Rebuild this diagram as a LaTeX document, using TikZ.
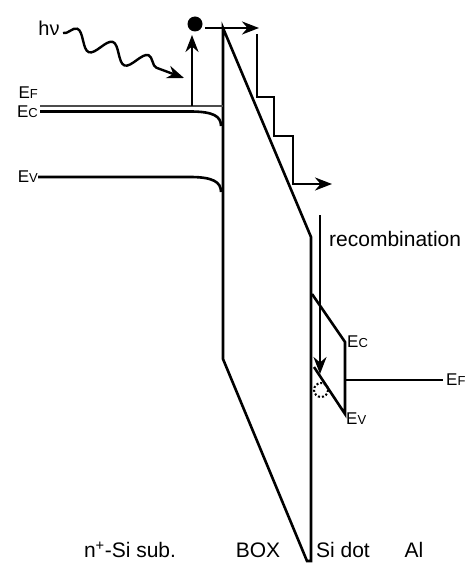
\documentclass[tikz,border=0pt]{standalone}
\usepackage{fontspec}
\setmainfont{Liberation Sans}
\usetikzlibrary{arrows.meta,decorations.pathmorphing}
\newcommand\lvlsub[1]{{\fontsize{13}{14}\selectfont #1}}
\begin{document}
\begin{tikzpicture}[x=1pt,y=-1pt,
  band/.style={line width=2.6pt, line join=miter},
  tip/.style={-{Stealth[length=17pt,width=13pt]}},
  lbl/.style={font=\fontsize{21}{24}\selectfont, inner sep=0pt},
  elbl/.style={font=\fontsize{17}{18}\selectfont, inner sep=0pt},
]
\useasboundingbox (0,0) rectangle (475,564);

% ---- coordinates
\coordinate (boxTL) at (223,28);
\coordinate (boxBendL) at (223,359);
\coordinate (boxBL) at (307,561);
\coordinate (boxBR) at (311,561);
\coordinate (boxBendR) at (311,237);
\coordinate (dotEcL) at (312,294);
\coordinate (dotEcR) at (345,342);
\coordinate (dotEvR) at (345,414);
\coordinate (dotEvL) at (314,367);
\coordinate (dotEF) at (345,380);
\coordinate (alEF) at (443,380);

% ---- BOX
\draw[band] (boxTL) -- (boxBendL) -- (boxBL) -- (boxBR) -- (boxBendR) -- cycle;

% ---- substrate bands
\draw[line width=2.4pt, black!70] (40,106) -- (223,106);
\draw[band] (40,111.5) -- (190,111.5) .. controls (213,111.5) and (221,116) .. (221,126);
\draw[band] (38,177) -- (190,177) .. controls (213,177) and (221,182) .. (221,192);

% ---- Si dot and Al
\draw[band] (dotEcL) -- (dotEcR) -- (dotEvR) -- (dotEvL);
\draw[band] (dotEF) -- (alEF);

% ---- photon
\node[font=\fontsize{20}{22}\selectfont, inner sep=0pt] (hv) at (49,28) {hν};
\draw[line width=2.4pt, tip, decorate,
  decoration={snake, segment length=38pt, amplitude=9pt, post length=20pt}]
  (63,33) -- (184,78);

% ---- electron and excitation
\fill (195,24) circle (7.5);
\draw[band, tip] (192,106) -- (192,35);
\draw[band, tip] (205,28) -- (259,28);

% ---- staircase
\draw[band, tip] (257,34) -- (257,97) -- (274,97) -- (274,136) -- (293,136) -- (293,184) -- (332,184);

% ---- recombination
\draw[band, tip] (320,215) -- (320,374);
\draw[line width=2pt, dotted] (321,390) circle (7);
\node[lbl, anchor=west] (recomb) at (329,239) {recombination};

% ---- level labels
\node[elbl, anchor=east] (efL) at (38,93) {E\lvlsub{F}};
\node[elbl, anchor=east] (ecL) at (38,112) {E\lvlsub{C}};
\node[elbl, anchor=east] (evL) at (38,177) {E\lvlsub{V}};
\node[elbl, anchor=west] (ecR) at (347,342) {E\lvlsub{C}};
\node[elbl, anchor=west] (evR) at (346,419) {E\lvlsub{V}};
\node[elbl, anchor=west] (efR) at (446,380) {E\lvlsub{F}};

% ---- region labels
\node[lbl] (nsub) at (130,550) {n\textsuperscript{+}-Si sub.};
\node[lbl] (boxl) at (258,550) {BOX};
\node[lbl] (sidot) at (343,550) {Si dot};
\node[lbl] (al) at (414,550) {Al};
\end{tikzpicture}
\end{document}
